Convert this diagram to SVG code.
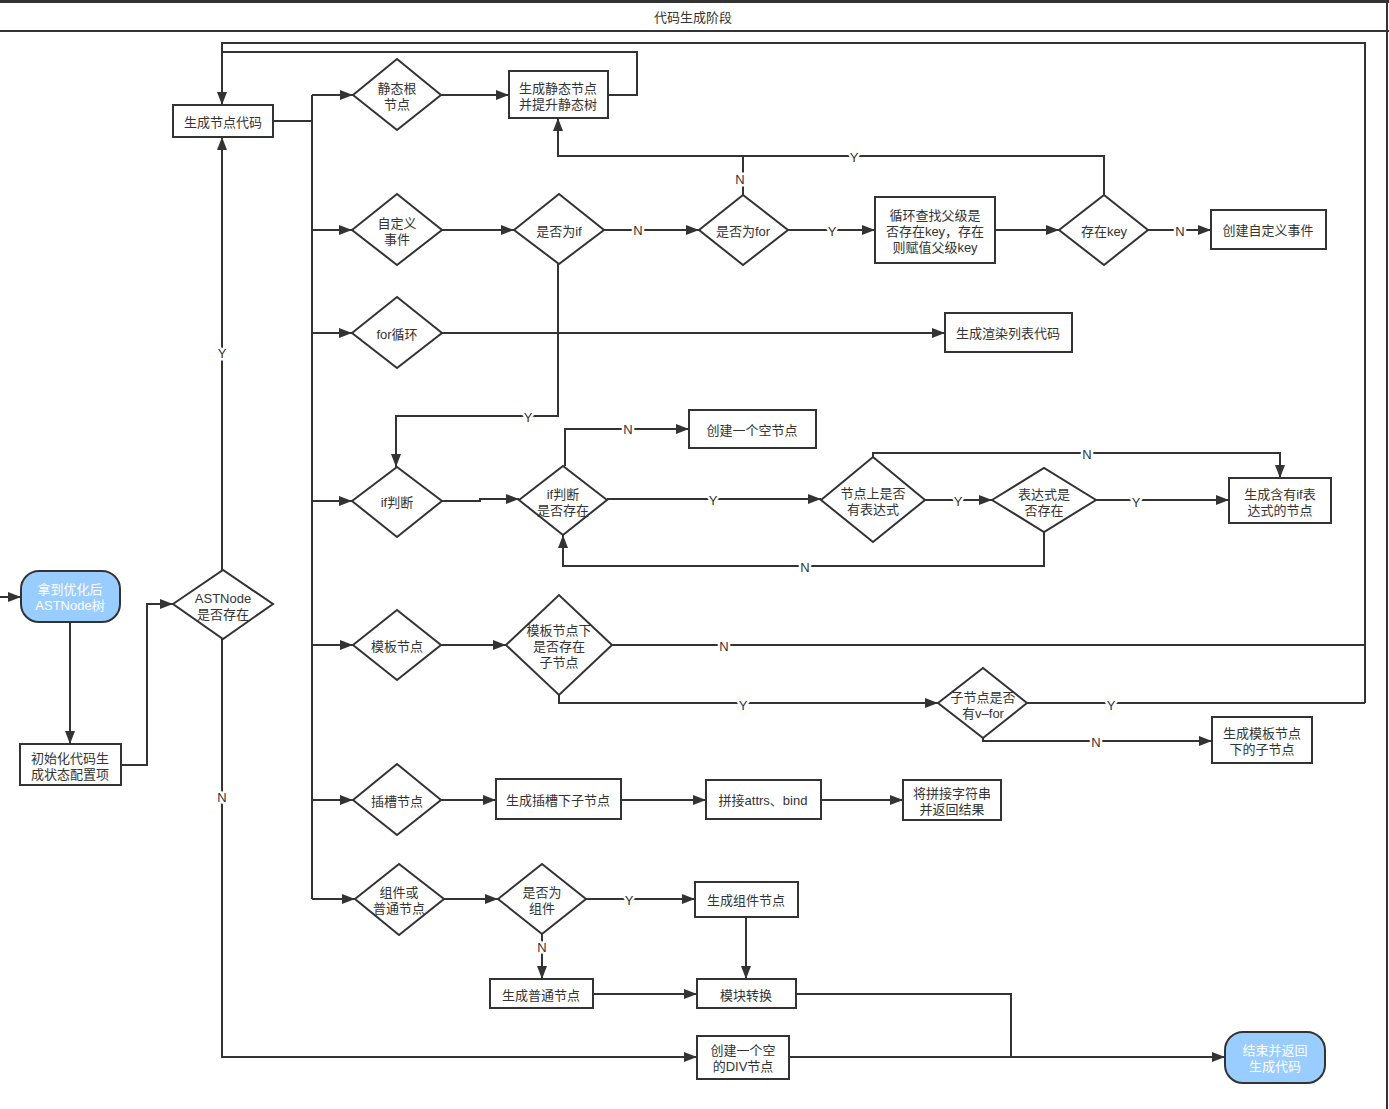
<svg xmlns="http://www.w3.org/2000/svg" width="1389" height="1109" viewBox="0 0 1389 1109">
<style>
text{font-family:"Liberation Sans","Noto Sans CJK SC",sans-serif;font-size:13px;fill:#333;text-anchor:middle;dominant-baseline:central}
.n{fill:#fff;stroke:#333;stroke-width:2}
.t{fill:#99ccff;stroke:#333;stroke-width:2}
.tt{fill:#fff}
.c path{fill:none;stroke:#333;stroke-width:2}
.c .a{marker-end:url(#ah)}
.lb{paint-order:stroke;stroke:#fff;stroke-width:5px;stroke-linejoin:round}
.frame{stroke:#333;fill:none}
</style>
<defs>
<marker id="ah" markerUnits="userSpaceOnUse" markerWidth="13" markerHeight="10" refX="13" refY="5" orient="auto">
<path d="M0,0 L13,5 L0,10 z" fill="#333"/>
</marker>
</defs>
<rect x="0" y="0" width="1389" height="1109" fill="#fff"/>
<g id="frame">
<path class="frame" stroke-width="3" d="M0,1.5 H1389"/>
<path class="frame" stroke-width="2" d="M0,31 H1389"/>
<path class="frame" stroke-width="2" d="M1387,0 V1109"/>
<text x="693" y="17">代码生成阶段</text>
</g>
<g class="c" id="connectors">
<path class="a" d="M0,597 H21"/>
<path class="a" d="M70,622 V744"/>
<path class="a" d="M121,765 H147 V604 H173"/>
<path class="a" d="M222,570 V137"/>
<path class="a" d="M222,639 V1057 H697"/>
<path d="M273,121 H312"/>
<path d="M312,95 V899"/>
<path class="a" d="M312,95 H353"/>
<path class="a" d="M312,230 H352"/>
<path class="a" d="M312,333 H352"/>
<path class="a" d="M312,501 H352"/>
<path class="a" d="M312,645 H353"/>
<path class="a" d="M312,800 H353"/>
<path class="a" d="M312,899 H355"/>
<path class="a" d="M441,95 H509"/>
<path class="a" d="M608,95 H637 V52 H222 V105"/>
<path d="M1365,703 V43 H222 V60"/>
<path d="M611,645 H1365"/>
<path d="M1027,703 H1365"/>
<path class="a" d="M442,230 H514"/>
<path class="a" d="M604,230 H699"/>
<path class="a" d="M788,230 H875"/>
<path class="a" d="M995,230 H1059"/>
<path class="a" d="M1148,230 H1211"/>
<path class="a" d="M1104,195 V156 H558 V118"/>
<path d="M743,195 V156"/>
<path class="a" d="M558,264 V416 H396 V467"/>
<path class="a" d="M442,333 H945"/>
<path class="a" d="M442,501 H480 V499 H519"/>
<path class="a" d="M565,466 V429 H689"/>
<path class="a" d="M607,499 H821"/>
<path class="a" d="M925,500 H992"/>
<path class="a" d="M873,457 V453 H1280 V478"/>
<path class="a" d="M1096,500 H1229"/>
<path class="a" d="M1044,532 V566 H563 V535"/>
<path class="a" d="M441,645 H506"/>
<path class="a" d="M559,695 V703 H938"/>
<path class="a" d="M983,738 V741 H1212"/>
<path class="a" d="M441,800 H496"/>
<path class="a" d="M621,800 H706"/>
<path class="a" d="M821,800 H903"/>
<path class="a" d="M444,899 H498"/>
<path class="a" d="M586,899 H695"/>
<path class="a" d="M542,934 V979"/>
<path class="a" d="M593,994 H697"/>
<path class="a" d="M746,917 V979"/>
<path d="M796,994 H1011 V1057"/>
<path class="a" d="M789,1057 H1225"/>
<g id="labels">
<text class="lb" x="222" y="353">Y</text>
<text class="lb" x="222" y="797">N</text>
<text class="lb" x="638" y="230">N</text>
<text class="lb" x="832" y="231">Y</text>
<text class="lb" x="1180" y="231">N</text>
<text class="lb" x="854" y="157">Y</text>
<text class="lb" x="740" y="179">N</text>
<text class="lb" x="528" y="417">Y</text>
<text class="lb" x="628" y="429">N</text>
<text class="lb" x="713" y="500">Y</text>
<text class="lb" x="958" y="501">Y</text>
<text class="lb" x="1087" y="454">N</text>
<text class="lb" x="1136" y="502">Y</text>
<text class="lb" x="805" y="567">N</text>
<text class="lb" x="724" y="646">N</text>
<text class="lb" x="743" y="705">Y</text>
<text class="lb" x="1111" y="705">Y</text>
<text class="lb" x="1096" y="742">N</text>
<text class="lb" x="629" y="900">Y</text>
<text class="lb" x="542" y="947">N</text>
</g>
</g>
<g id="start"><rect class="t" x="21" y="571" width="99" height="51" rx="18"/><text class="tt" x="70" y="589">拿到优化后</text><text class="tt" x="70" y="605">ASTNode树</text></g>
<g id="init"><rect class="n" x="20" y="744" width="101" height="41"/><text x="70" y="758">初始化代码生</text><text x="70" y="774">成状态配置项</text></g>
<g id="astnode"><path class="n" d="M173,604 L223,570 L273,604 L223,639 Z"/><text x="223" y="598">ASTNode</text><text x="223" y="614">是否存在</text></g>
<g id="gennode"><rect class="n" x="173" y="105" width="100" height="32"/><text x="223" y="122">生成节点代码</text></g>
<g id="staticroot"><path class="n" d="M353,95 L397,59 L441,95 L397,130 Z"/><text x="397" y="88">静态根</text><text x="397" y="104">节点</text></g>
<g id="genstatic"><rect class="n" x="509" y="71" width="99" height="47"/><text x="558" y="88">生成静态节点</text><text x="558" y="104">并提升静态树</text></g>
<g id="customevent"><path class="n" d="M352,230 L397,194 L442,230 L397,265 Z"/><text x="397" y="223">自定义</text><text x="397" y="239">事件</text></g>
<g id="isif"><path class="n" d="M514,230 L559,194 L604,230 L559,264 Z"/><text x="559" y="231">是否为if</text></g>
<g id="isfor"><path class="n" d="M699,230 L743,195 L788,230 L743,265 Z"/><text x="743" y="231">是否为for</text></g>
<g id="findkey"><rect class="n" x="875" y="197" width="120" height="66"/><text x="935" y="215">循环查找父级是</text><text x="935" y="231">否存在key，存在</text><text x="935" y="247">则赋值父级key</text></g>
<g id="haskey"><path class="n" d="M1059,230 L1104,195 L1148,230 L1104,265 Z"/><text x="1104" y="231">存在key</text></g>
<g id="createevent"><rect class="n" x="1211" y="210" width="115" height="39"/><text x="1268" y="230">创建自定义事件</text></g>
<g id="forloop"><path class="n" d="M352,333 L397,297 L442,333 L397,368 Z"/><text x="397" y="334">for循环</text></g>
<g id="renderlist"><rect class="n" x="945" y="313" width="127" height="39"/><text x="1008" y="333">生成渲染列表代码</text></g>
<g id="ifjudge"><path class="n" d="M352,501 L397,467 L442,501 L397,537 Z"/><text x="397" y="502">if判断</text></g>
<g id="ifexists"><path class="n" d="M519,500 L563,466 L607,500 L563,535 Z"/><text x="563" y="494">if判断</text><text x="563" y="510">是否存在</text></g>
<g id="emptynode"><rect class="n" x="689" y="410" width="127" height="38"/><text x="752" y="430">创建一个空节点</text></g>
<g id="hasexpr"><path class="n" d="M821,500 L873,457 L925,500 L873,542 Z"/><text x="873" y="493">节点上是否</text><text x="873" y="509">有表达式</text></g>
<g id="exprexists"><path class="n" d="M992,500 L1044,468 L1096,500 L1044,532 Z"/><text x="1044" y="494">表达式是</text><text x="1044" y="510">否存在</text></g>
<g id="genifnode"><rect class="n" x="1229" y="478" width="102" height="45"/><text x="1280" y="494">生成含有if表</text><text x="1280" y="510">达式的节点</text></g>
<g id="template"><path class="n" d="M353,645 L397,610 L441,645 L397,680 Z"/><text x="397" y="646">模板节点</text></g>
<g id="haschild"><path class="n" d="M506,645 L559,595 L612,645 L559,695 Z"/><text x="559" y="630">模板节点下</text><text x="559" y="646">是否存在</text><text x="559" y="662">子节点</text></g>
<g id="vfor"><path class="n" d="M938,703 L983,668 L1027,703 L983,738 Z"/><text x="983" y="697">子节点是否</text><text x="983" y="713">有v–for</text></g>
<g id="genchild"><rect class="n" x="1212" y="717" width="100" height="46"/><text x="1262" y="733">生成模板节点</text><text x="1262" y="749">下的子节点</text></g>
<g id="slot"><path class="n" d="M353,800 L397,764 L441,800 L397,835 Z"/><text x="397" y="801">插槽节点</text></g>
<g id="genslot"><rect class="n" x="496" y="779" width="125" height="40"/><text x="558" y="800">生成插槽下子节点</text></g>
<g id="concat"><rect class="n" x="706" y="780" width="115" height="39"/><text x="763" y="800">拼接attrs、bind</text></g>
<g id="returnres"><rect class="n" x="903" y="780" width="98" height="40"/><text x="952" y="793">将拼接字符串</text><text x="952" y="809">并返回结果</text></g>
<g id="comporplain"><path class="n" d="M355,899 L399,864 L444,899 L399,935 Z"/><text x="399" y="892">组件或</text><text x="399" y="908">普通节点</text></g>
<g id="iscomp"><path class="n" d="M498,899 L542,864 L586,899 L542,934 Z"/><text x="542" y="892">是否为</text><text x="542" y="908">组件</text></g>
<g id="gencomp"><rect class="n" x="695" y="882" width="103" height="35"/><text x="746" y="900">生成组件节点</text></g>
<g id="genplain"><rect class="n" x="490" y="979" width="103" height="29"/><text x="541" y="995">生成普通节点</text></g>
<g id="module"><rect class="n" x="697" y="979" width="99" height="29"/><text x="746" y="995">模块转换</text></g>
<g id="emptydiv"><rect class="n" x="697" y="1036" width="92" height="43"/><text x="743" y="1050">创建一个空</text><text x="743" y="1066">的DIV节点</text></g>
<g id="end"><rect class="t" x="1225" y="1032" width="100" height="51" rx="18"/><text class="tt" x="1275" y="1050">结束并返回</text><text class="tt" x="1275" y="1066">生成代码</text></g>
</svg>
